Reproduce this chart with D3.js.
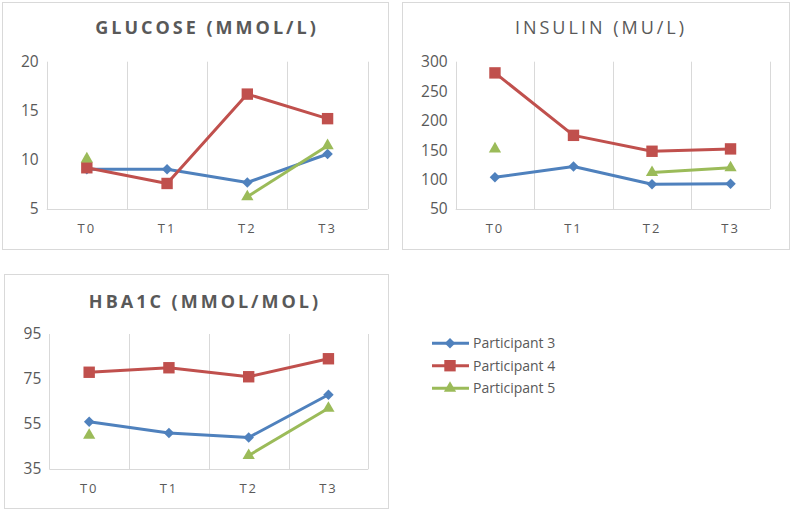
<!DOCTYPE html>
<html><head><meta charset="utf-8">
<script src="https://cdn.jsdelivr.net/npm/d3@7"></script>
<style>body{margin:0;background:#fff;}svg{display:block;}</style>
</head><body>
<script>
const categories = ["T0","T1","T2","T3"];
const seriesNames = ["Participant 3","Participant 4","Participant 5"];
const glucoseP3 = [9.05, 9.05, 7.7, 10.6];
const glucoseP4 = [9.2, 7.6, 16.7, 14.2];
const glucoseP5 = [10.1, null, 6.25, 11.45];
const insulinP3 = [104, 122, 92, 93];
const insulinP4 = [281, 175, 148, 152];
const insulinP5 = [152, null, 112, 120];
const hba1cP3 = [56, 51, 49, 68];
const hba1cP4 = [78, 80, 76, 84];
const hba1cP5 = [50, null, 41, 62];
const glucoseTicks = [5,10,15,20];
const insulinTicks = [50,100,150,200,250,300];
const hba1cTicks = [35,55,75,95];

const colors = ["#4F81BD","#C0504D","#9BBB59"];
const diamond = {draw(ctx,size){const r=Math.sqrt(size/2);ctx.moveTo(0,-r);ctx.lineTo(r,0);ctx.lineTo(0,r);ctx.lineTo(-r,0);ctx.closePath();}};
const shapes = [diamond, d3.symbolSquare, d3.symbolTriangle];
const sizes = [55, 130, 65];

const svg = d3.select("body").append("svg").attr("width",791).attr("height",510);

function panel(cfg){
  const g = svg.append("g");
  g.append("rect").attr("x",cfg.frame[0]+0.5).attr("y",cfg.frame[1]+0.5)
    .attr("width",cfg.frame[2]-cfg.frame[0]).attr("height",cfg.frame[3]-cfg.frame[1])
    .attr("fill","#fff").attr("stroke","#d9d9d9");
  const x = d3.scaleBand().domain(categories).range([cfg.plot[0],cfg.plot[2]]);
  const y = d3.scaleLinear().domain(d3.extent(cfg.ticks)).range([cfg.plot[3],cfg.plot[1]]);
  const bounds = categories.map(c=>x(c)).concat([cfg.plot[2]]);
  g.selectAll(".vg").data(bounds).join("line")
    .attr("x1",d=>Math.round(d)+0.5).attr("x2",d=>Math.round(d)+0.5)
    .attr("y1",cfg.plot[1]).attr("y2",cfg.plot[3])
    .attr("stroke","#d9d9d9").attr("stroke-width",1);
  g.append("line").attr("x1",cfg.plot[0]).attr("x2",cfg.plot[2])
    .attr("y1",Math.round(cfg.plot[3])+0.5).attr("y2",Math.round(cfg.plot[3])+0.5)
    .attr("stroke","#d9d9d9");
  const ya = d3.axisLeft(y).tickValues(cfg.ticks).tickSize(0).tickPadding(8);
  const yg = g.append("g").attr("transform",`translate(${cfg.plot[0]},0)`).call(ya);
  yg.select(".domain").remove();
  yg.selectAll("text").attr("font-family","'Open Sans',sans-serif").attr("font-size",15.5).attr("fill","#595959");
  const xa = d3.axisBottom(x).tickSize(0).tickPadding(15);
  const xg = g.append("g").attr("transform",`translate(0,${cfg.plot[3]})`).call(xa);
  xg.select(".domain").remove();
  xg.selectAll("text").attr("font-family","'Open Sans',sans-serif").attr("font-size",13)
    .attr("letter-spacing","2px").attr("fill","#595959");
  g.append("text").attr("x",cfg.titleX).attr("y",cfg.titleY).attr("text-anchor","middle")
    .attr("font-family","'Open Sans',sans-serif").attr("font-size",18)
    .attr("font-weight",cfg.bold?"bold":"normal").attr("letter-spacing","3px")
    .attr("fill","#595959").text(cfg.title);
  cfg.series.forEach((vals,i)=>{
    const data = vals.map((v,j)=>({c:categories[j],v}));
    const line = d3.line().defined(d=>d.v!=null).x(d=>x(d.c)+x.bandwidth()/2).y(d=>y(d.v));
    g.append("path").datum(data).attr("d",line).attr("fill","none")
      .attr("stroke",colors[i]).attr("stroke-width",3).attr("stroke-linejoin","round");
    g.selectAll(".m"+i).data(data.filter(d=>d.v!=null)).join("path")
      .attr("d",d3.symbol().type(shapes[i]).size(sizes[i]))
      .attr("transform",d=>`translate(${x(d.c)+x.bandwidth()/2},${y(d.v)})`)
      .attr("fill",colors[i]);
  });
}

panel({frame:[2,2,388,249],plot:[46.7,61.7,367.7,209],ticks:glucoseTicks,
  title:"GLUCOSE (MMOL/L)",bold:true,titleX:207,titleY:34,
  series:[glucoseP3,glucoseP4,glucoseP5]});
panel({frame:[402,2,789,249],plot:[455.7,61.7,769.8,209],ticks:insulinTicks,
  title:"INSULIN (MU/L)",bold:false,titleX:601,titleY:34,
  series:[insulinP3,insulinP4,insulinP5]});
panel({frame:[4,274,388,508],plot:[49.3,334,368.3,469],ticks:hba1cTicks,
  title:"HBA1C (MMOL/MOL)",bold:true,titleX:205,titleY:308,
  series:[hba1cP3,hba1cP4,hba1cP5]});

const lg = svg.append("g");
seriesNames.forEach((n,i)=>{
  const yy = [343.3,365.7,388.3][i];
  lg.append("line").attr("x1",432).attr("x2",469).attr("y1",yy).attr("y2",yy)
    .attr("stroke",colors[i]).attr("stroke-width",3);
  lg.append("path").attr("d",d3.symbol().type(shapes[i]).size(sizes[i])())
    .attr("transform",`translate(450,${yy})`).attr("fill",colors[i]);
  lg.append("text").attr("x",473).attr("y",yy).attr("dy","0.35em")
    .attr("font-family","'Open Sans',sans-serif").attr("font-size",14)
    .attr("fill","#595959").text(n);
});
</script>
</body></html>
